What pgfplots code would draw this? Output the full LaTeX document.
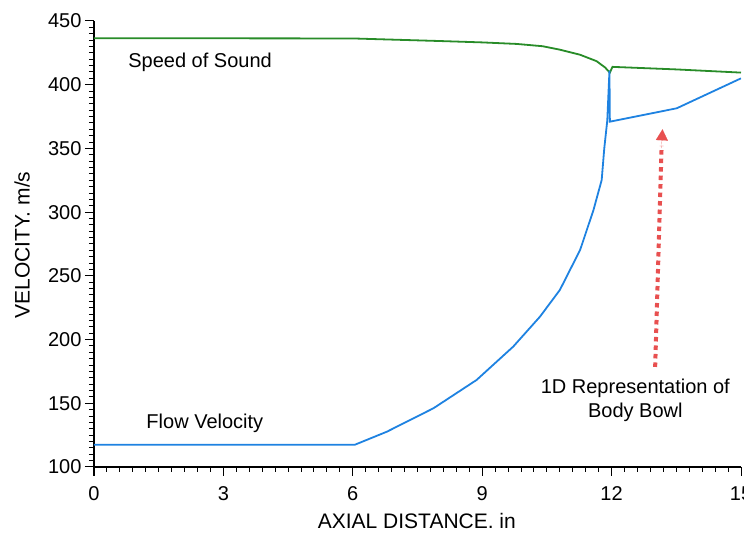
\documentclass[border=0pt]{standalone}
\usepackage{pgfplots}
\pgfplotsset{compat=1.18}
\usepackage{fontspec}
\setmainfont{Liberation Sans}
\usetikzlibrary{arrows.meta}
\definecolor{sosgreen}{RGB}{40,140,40}
\definecolor{flowblue}{RGB}{30,130,225}
\definecolor{arrred}{RGB}{232,80,80}
\begin{document}
\begin{tikzpicture}
\begin{axis}[
  at={(0,0)}, anchor=south west,
  scale only axis, width=647pt, height=446pt,
  xmin=0, xmax=15, ymin=100, ymax=450,
  axis x line*=bottom, axis y line*=left,
  axis line style={line width=1.4pt, black, -},
  xtick={0,3,...,15}, ytick={100,150,...,450},
  minor x tick num=9, minor y tick num=9,
  tick align=outside,
  tick style={black, line width=1pt},
  major tick length=9pt, minor tick length=5pt,
  /pgf/number format/assume math mode=true,
  ticklabel style={font=\fontsize{20}{24}\selectfont},
  xticklabel style={yshift=-7pt},
  xlabel={AXIAL DISTANCE. in},
  ylabel={VELOCITY. m/s},
  label style={font=\fontsize{21}{25}\selectfont},
  xlabel style={at={(axis description cs:0.499,-0.121)}, anchor=center},
  ylabel style={at={(axis description cs:-0.111,0.498)}, anchor=center},
]
\addplot[sosgreen, line width=1.8pt] coordinates {
 (0,436.5) (6,436.3) (7,435.3) (8,434.3) (9,433.2) (9.8,432) (10.4,430.2)
 (10.8,427.5) (11.27,423.5) (11.65,418.5) (11.85,413.5) (11.93,410.5) (11.96,409.5)
 (12.02,414) (13.5,412) (15,409.5)
};
\addplot[flowblue, line width=1.8pt] coordinates {
 (0,117.5) (6.05,117.5) (6.79,127.7) (7.87,146.1) (8.87,168.3) (9.72,194.5)
 (10.34,218) (10.8,238.9) (11.27,270.3) (11.58,301.7) (11.77,325.2)
 (11.83,350) (11.9,372) (11.95,411) (11.96,371) (13.51,381.5) (15,405)
};
\draw[arrred, line width=4pt, dash pattern=on 4.5pt off 4pt]
  (axis cs:13.01,178.5) -- (axis cs:13.16,352);
\draw[arrred, line width=0.1pt, -{Triangle[width=12pt,length=11pt]}]
  (axis cs:13.155,350) -- (axis cs:13.18,365);
\node[font=\fontsize{20}{24}\selectfont] at (axis cs:2.46,417.8) {Speed of Sound};
\node[font=\fontsize{20}{24}\selectfont] at (axis cs:2.57,134.5) {Flow Velocity};
\node[font=\fontsize{20}{24}\selectfont, align=center] at (axis cs:12.55,152.6)
  {1D Representation of\\Body Bowl};
\end{axis}
% axis tick marks (decoration of the axis frame)
\foreach \i in {0,...,50}{
  \pgfmathsetmacro\tl{ifthenelse(mod(\i,10)==0,9,5)}
  \draw[black, line width=1pt] ({\i*12.94pt},0) -- ++(0,-\tl pt);
}
\foreach \i in {0,...,70}{
  \pgfmathsetmacro\tl{ifthenelse(mod(\i,10)==0,9,5)}
  \draw[black, line width=1pt] (0,{\i*6.3714pt}) -- ++(-\tl pt,0);
}
\pgfresetboundingbox
\path[use as bounding box] (-94pt,-78pt) rectangle (650pt,467pt);
\end{tikzpicture}
\end{document}
